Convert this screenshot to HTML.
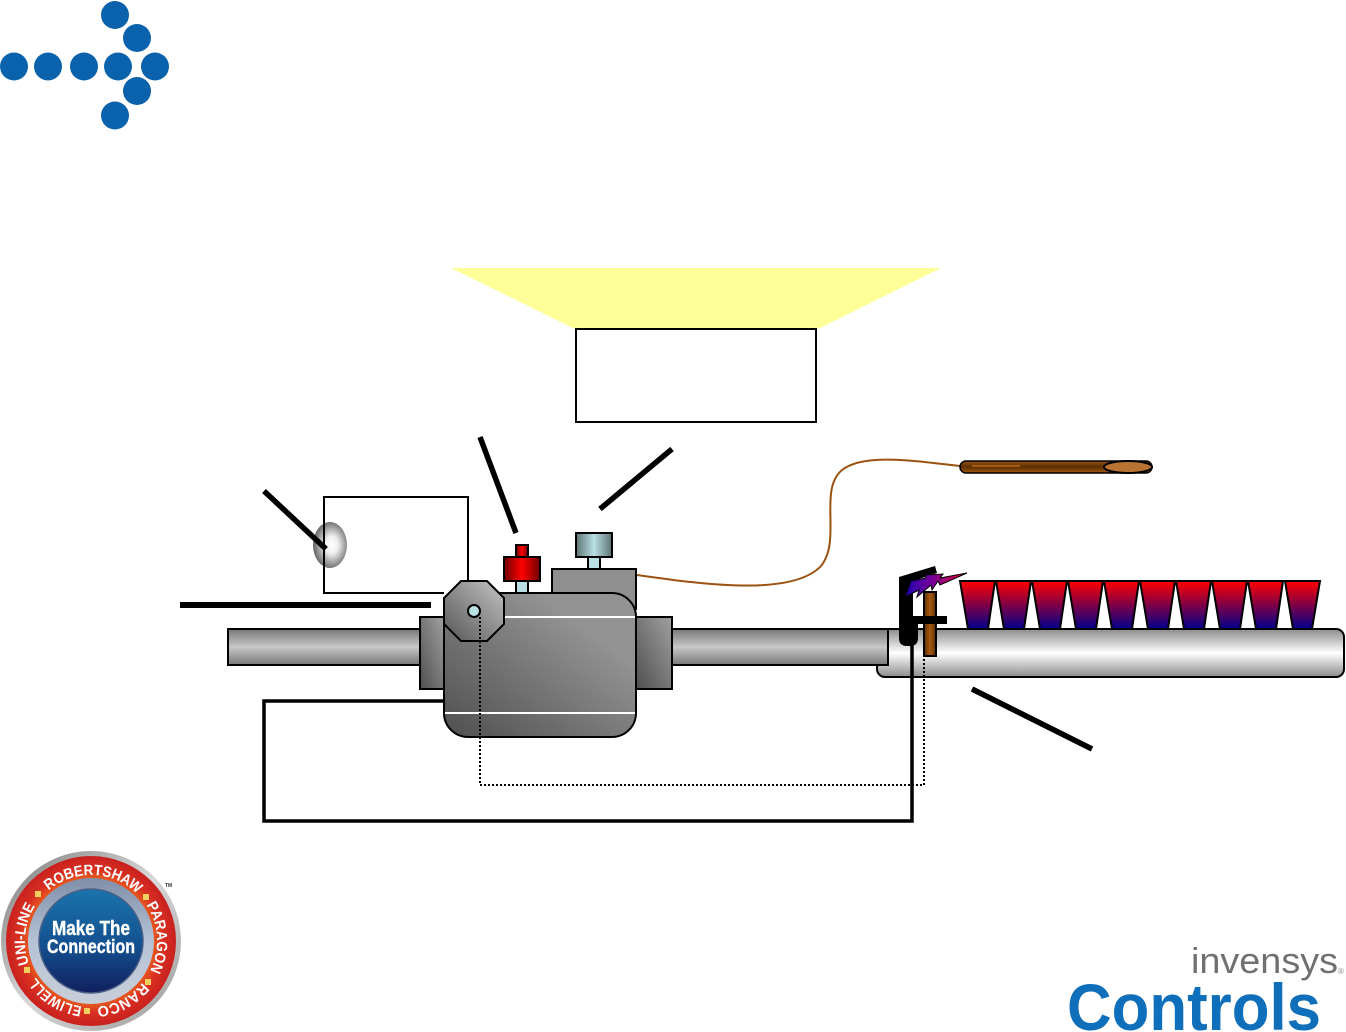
<!DOCTYPE html>
<html>
<head>
<meta charset="utf-8">
<style>
html,body{margin:0;padding:0;background:#fff;width:1346px;height:1032px;overflow:hidden}
svg{display:block;font-family:"Liberation Sans",sans-serif}
</style>
</head>
<body>
<svg width="1346" height="1032" viewBox="0 0 1346 1032" xmlns="http://www.w3.org/2000/svg">
<defs>
<linearGradient id="pipe" x1="0" y1="0" x2="0" y2="1"><stop offset="0" stop-color="#777"/><stop offset=".5" stop-color="#c8c8c8"/><stop offset="1" stop-color="#777"/></linearGradient>
<linearGradient id="tube" x1="0" y1="0" x2="0" y2="1"><stop offset="0" stop-color="#8c8c8c"/><stop offset=".5" stop-color="#fff"/><stop offset="1" stop-color="#8c8c8c"/></linearGradient>
<linearGradient id="body" x1="0" y1="1" x2="1" y2="0"><stop offset="0" stop-color="#4f4f4f"/><stop offset=".75" stop-color="#939393"/><stop offset="1" stop-color="#939393"/></linearGradient>
<linearGradient id="fl" x1="0" y1="1" x2="1" y2="0"><stop offset="0" stop-color="#4f4f4f"/><stop offset="1" stop-color="#a0a0a0"/></linearGradient>
<linearGradient id="oct" x1="0" y1="1" x2="1" y2="0"><stop offset="0" stop-color="#555"/><stop offset="1" stop-color="#c4c4c4"/></linearGradient>
<linearGradient id="red" x1="0" y1="0" x2="1" y2="0"><stop offset="0" stop-color="#6e0000"/><stop offset=".5" stop-color="#f00"/><stop offset="1" stop-color="#6e0000"/></linearGradient>
<linearGradient id="cap" x1="0" y1="0" x2="1" y2="0"><stop offset="0" stop-color="#5e7274"/><stop offset=".5" stop-color="#b9e0e3"/><stop offset="1" stop-color="#5e7274"/></linearGradient>
<linearGradient id="brown" x1="0" y1="0" x2="1" y2="0"><stop offset="0" stop-color="#5a2e00"/><stop offset=".5" stop-color="#a8590f"/><stop offset="1" stop-color="#5a2e00"/></linearGradient>
<linearGradient id="probe" x1="0" y1="0" x2="0" y2="1"><stop offset="0" stop-color="#9a5210"/><stop offset=".5" stop-color="#5a2e00"/><stop offset="1" stop-color="#a55a12"/></linearGradient>
<linearGradient id="flame" x1="0" y1="0" x2="0" y2="1"><stop offset="0" stop-color="#f00"/><stop offset="1" stop-color="#00008c"/></linearGradient>
<linearGradient id="spark" x1="0" y1="0" x2="1" y2="0"><stop offset="0" stop-color="#2000b0"/><stop offset=".45" stop-color="#7a0098"/><stop offset="1" stop-color="#f00030"/></linearGradient>
<radialGradient id="bulb" cx=".55" cy=".5" r=".55"><stop offset="0" stop-color="#fff"/><stop offset=".35" stop-color="#eee"/><stop offset="1" stop-color="#606060"/></radialGradient>
<linearGradient id="silver" x1="0" y1="0" x2="1" y2="1"><stop offset="0" stop-color="#7a7a7a"/><stop offset=".5" stop-color="#d8d8d8"/><stop offset="1" stop-color="#999"/></linearGradient>
<radialGradient id="ringred" cx=".5" cy=".5" r=".5"><stop offset=".72" stop-color="#e8601f"/><stop offset=".85" stop-color="#d92f22"/><stop offset="1" stop-color="#c8201e"/></radialGradient>
<linearGradient id="silver2" x1="0" y1="0" x2="0" y2="1"><stop offset="0" stop-color="#7f8fa8"/><stop offset=".5" stop-color="#b5c2d6"/><stop offset="1" stop-color="#c8ced8"/></linearGradient>
<linearGradient id="blue" x1="0" y1="0" x2="0" y2="1"><stop offset="0" stop-color="#1a74ad"/><stop offset=".55" stop-color="#14508f"/><stop offset="1" stop-color="#101f5e"/></linearGradient>
<path id="arc" d="M91,875 A66,66 0 1 1 90.99,875"/>
</defs>

<!-- arrow logo -->
<g fill="#0a62ac">
<circle cx="14" cy="66.5" r="14"/><circle cx="48" cy="66.5" r="14"/><circle cx="84" cy="66.5" r="14"/>
<circle cx="118" cy="66.5" r="14"/><circle cx="155" cy="66.5" r="14"/>
<circle cx="115" cy="15" r="14"/><circle cx="137" cy="38" r="14"/>
<circle cx="137" cy="91" r="14"/><circle cx="115" cy="115.5" r="14"/>
</g>

<!-- yellow beam and box -->
<polygon points="451,268 941,268 818,329 575,329" fill="#ffff99"/>
<rect x="576" y="329" width="240" height="93" fill="#fff" stroke="#000" stroke-width="2"/>

<!-- bulb -->
<ellipse cx="330" cy="545" rx="17" ry="23" fill="url(#bulb)"/>
<!-- thin loop -->
<polyline points="468,582 468,497 324,497 324,593 444,593" fill="none" stroke="#000" stroke-width="2"/>

<!-- leader lines -->
<g stroke="#000" fill="none">
<line x1="480" y1="437" x2="516" y2="533" stroke-width="5.5"/>
<line x1="672" y1="449" x2="600" y2="509" stroke-width="5.5"/>
<line x1="264" y1="491" x2="326" y2="549" stroke-width="5.5"/>
<line x1="180" y1="605" x2="431" y2="605" stroke-width="6"/>
<line x1="972" y1="689" x2="1092" y2="749" stroke-width="5.5"/>
</g>

<!-- burner tube -->
<rect x="877" y="629" width="467" height="48" rx="8" fill="url(#tube)" stroke="#000" stroke-width="2"/>

<!-- flames -->
<g fill="url(#flame)" stroke="#000" stroke-width="2">
<polygon points="960,581 995,581 988,629 968,629"/>
<polygon points="996,581 1031,581 1024,629 1004,629"/>
<polygon points="1032,581 1067,581 1060,629 1040,629"/>
<polygon points="1068,581 1103,581 1096,629 1076,629"/>
<polygon points="1104,581 1139,581 1132,629 1112,629"/>
<polygon points="1140,581 1175,581 1168,629 1148,629"/>
<polygon points="1176,581 1211,581 1204,629 1184,629"/>
<polygon points="1212,581 1247,581 1240,629 1220,629"/>
<polygon points="1248,581 1283,581 1276,629 1256,629"/>
<polygon points="1285,581 1320,581 1312,629 1293,629"/>
</g>

<!-- pipes -->
<rect x="228" y="629" width="192" height="36" fill="url(#pipe)" stroke="#000" stroke-width="2"/>
<rect x="672" y="629" width="216" height="36" fill="url(#pipe)" stroke="#000" stroke-width="2"/>

<!-- thermocouple wire and probe -->
<path d="M637,575 C700,584 792,597 821,566 C842,540 818,490 842,470 C865,452 920,462 960,466" fill="none" stroke="#9a5210" stroke-width="2"/>
<rect x="960" y="461" width="192" height="12" rx="6" fill="url(#probe)" stroke="#000" stroke-width="1.5"/>
<rect x="972" y="465" width="48" height="2" fill="#a55a12"/>
<ellipse cx="1128" cy="467" rx="24" ry="6" fill="#b87333" stroke="#000" stroke-width="2"/>

<!-- knobs -->
<rect x="516" y="581" width="12" height="13" fill="#b9e0e3" stroke="#000" stroke-width="2"/>
<rect x="516" y="545" width="12" height="12" fill="url(#red)" stroke="#000" stroke-width="2"/>
<rect x="504" y="557" width="36" height="24" fill="url(#red)" stroke="#000" stroke-width="2"/>
<rect x="588" y="557" width="12" height="12" fill="#b9e0e3" stroke="#000" stroke-width="2"/>
<rect x="576" y="533" width="36" height="24" fill="url(#cap)" stroke="#000" stroke-width="2"/>
<rect x="552" y="569" width="84" height="40" fill="#8f8f8f" stroke="#000" stroke-width="2"/>

<!-- flanges -->
<rect x="420" y="617" width="24" height="72" fill="url(#fl)" stroke="#000" stroke-width="2"/>
<rect x="636" y="617" width="36" height="72" fill="url(#fl)" stroke="#000" stroke-width="2"/>

<!-- body -->
<rect x="444" y="593" width="192" height="144" rx="24" fill="url(#body)" stroke="#000" stroke-width="2"/>
<line x1="445" y1="617" x2="635" y2="617" stroke="#fff" stroke-width="2"/>
<line x1="445" y1="713" x2="635" y2="713" stroke="#fff" stroke-width="2"/>

<!-- octagon -->
<polygon points="461,581 487,581 504,598 504,624 487,641 461,641 444,624 444,598" fill="url(#oct)" stroke="#000" stroke-width="2"/>
<circle cx="474" cy="611" r="6" fill="#b9e0e3" stroke="#000" stroke-width="2"/>

<!-- dotted signal -->
<polyline points="480,617 480,785 924,785 924,657" fill="none" stroke="#000" stroke-width="2" stroke-dasharray="2 2"/>

<!-- thick loop -->
<polyline points="444,701 264,701 264,821 912,821 912,640" fill="none" stroke="#000" stroke-width="3.5"/>

<!-- electrode -->
<rect x="924" y="592" width="12" height="64" fill="url(#brown)" stroke="#000" stroke-width="2"/>

<!-- pilot -->
<path d="M899,577 L935,566 L937,573 L913,581 L913,616 L947,616 L947,624 L918,624 L918,638 Q918,646 910,646 L907,646 Q899,646 899,638 Z" fill="#000"/>
<polygon points="905,597 911,581 926,578 925,575 943,574 940,578 967,573 940,585 938,581 932,590 931,585 917,597 919,590" fill="url(#spark)" stroke="#000" stroke-width="1"/>

<!-- badge -->
<circle cx="91" cy="941" r="90" fill="url(#silver)"/>
<circle cx="91" cy="941" r="85" fill="url(#ringred)"/>
<circle cx="91" cy="941" r="63" fill="url(#silver2)"/>
<circle cx="91" cy="941" r="52" fill="url(#blue)" stroke="#4a5f85" stroke-width="1.5"/>
<g font-family="'Liberation Sans',sans-serif" font-weight="bold" font-size="15" fill="#fff">
<g transform="rotate(-40 91 941)"><text><textPath href="#arc" textLength="97" lengthAdjust="spacingAndGlyphs">ROBERTSHAW</textPath></text></g>
<g transform="rotate(57 91 941)"><text><textPath href="#arc" textLength="69" lengthAdjust="spacingAndGlyphs">PARAGON</textPath></text></g>
<g transform="rotate(129 91 941)"><text><textPath href="#arc" textLength="53" lengthAdjust="spacingAndGlyphs">RANCO</textPath></text></g>
<g transform="rotate(188 91 941)"><text><textPath href="#arc" textLength="56" lengthAdjust="spacingAndGlyphs">ELIWELL</textPath></text></g>
<g transform="rotate(250 91 941)"><text><textPath href="#arc" textLength="60" lengthAdjust="spacingAndGlyphs">UNI-LINE</textPath></text></g>
</g>
<g fill="#f2d060">
<rect x="143" y="894" width="6" height="6"/>
<rect x="145" y="979" width="6" height="6"/>
<rect x="84" y="1008" width="6" height="6"/>
<rect x="24" y="967" width="6" height="6"/>
<rect x="35" y="891" width="6" height="6"/>
</g>
<text x="91" y="935" text-anchor="middle" font-size="20" font-weight="bold" fill="#fff" stroke="#fff" stroke-width=".4" textLength="78" lengthAdjust="spacingAndGlyphs">Make The</text>
<text x="91" y="953" text-anchor="middle" font-size="19" font-weight="bold" fill="#fff" stroke="#fff" stroke-width=".4" textLength="88" lengthAdjust="spacingAndGlyphs">Connection</text>
<text x="165" y="887" font-size="5" font-weight="bold" fill="#333">TM</text>

<!-- invensys -->
<text x="1191" y="973" font-size="36" fill="#707070" textLength="147" lengthAdjust="spacingAndGlyphs">invensys</text>
<text x="1338" y="974" font-size="8" fill="#888">®</text>
<text x="1067" y="1030" font-size="66" font-weight="bold" fill="#0f6fba" textLength="254" lengthAdjust="spacingAndGlyphs">Controls</text>
</svg>
</body>
</html>
